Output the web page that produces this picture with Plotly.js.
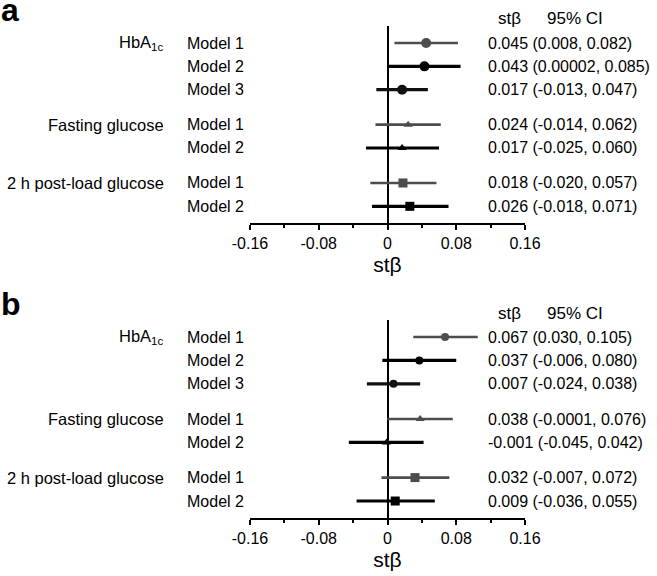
<!DOCTYPE html>
<html>
<head>
<meta charset="utf-8">
<script src="https://cdn.plot.ly/plotly-3.0.1.min.js"></script>
<style>html,body{margin:0;padding:0;background:#fff;}#chart{width:657px;height:576px;}</style>
</head>
<body>
<div id="chart"></div>
<script>
// ---- data ----
var models = ['Model 1', 'Model 2', 'Model 3', 'Model 1', 'Model 2', 'Model 1', 'Model 2'];
var groups = ['HbA<sub>1c</sub>', 'Fasting glucose', '2 h post-load glucose'];
var groupRow = [0, 3, 5];          // index of first model row of each group
var rowPos = [0, 1, 2, 3.5, 4.5, 6, 7];
var symbols = ['circle', 'circle', 'circle', 'triangle-up', 'triangle-up', 'square', 'square'];
var rowColors = ['#4d4d4d', '#000000', '#111111', '#4d4d4d', '#000000', '#4d4d4d', '#000000'];

// panel a
var estA = [0.045, 0.043, 0.017, 0.024, 0.017, 0.018, 0.026];
var loA  = [0.008, 0.00002, -0.013, -0.014, -0.025, -0.020, -0.018];
var hiA  = [0.082, 0.085, 0.047, 0.062, 0.060, 0.057, 0.071];
// panel b
var estB = [0.067, 0.037, 0.007, 0.038, -0.001, 0.032, 0.009];
var loB  = [0.030, -0.006, -0.024, -0.0001, -0.045, -0.007, -0.036];
var hiB  = [0.105, 0.080, 0.038, 0.076, 0.042, 0.072, 0.055];

var tickVals = [-0.16, -0.08, 0, 0.08, 0.16];
var tickText = ['-0.16', '-0.08', '0', '0.08', '0.16'];

// ---- helpers ----
function fmt(v) {
  return (v !== 0 && Math.abs(v) < 0.001) ? String(v) : v.toFixed(3);
}
var FONT = 'Liberation Sans, Arial, Helvetica, sans-serif';
var W = 657, H = 576;
function px(x) { return x / W; }
function py(y) { return (H - y) / H; }

var traces = [];
var annotations = [];

function addPanel(est, lo, hi, xa, ya, headerY, letter, letterY) {
  var i;
  for (i = 0; i < est.length; i++) {
    var lw = rowColors[i] === '#4d4d4d' ? 2.6 : 3.2;
    traces.push({
      type: 'scatter', mode: 'lines', x: [lo[i], hi[i]], y: [rowPos[i], rowPos[i]],
      xaxis: xa, yaxis: ya, line: {color: rowColors[i], width: lw},
      hoverinfo: 'skip', showlegend: false
    });
  }
  for (i = 0; i < est.length; i++) {
    var sz = symbols[i] === 'circle' ? (ya === 'y' ? 10 : 8) : (symbols[i] === 'square' ? 9 : 8);
    traces.push({
      type: 'scatter', mode: 'markers', x: [est[i]], y: [rowPos[i]],
      xaxis: xa, yaxis: ya,
      marker: {symbol: symbols[i], color: rowColors[i], size: sz, line: {width: 0}},
      showlegend: false
    });
    annotations.push({
      xref: 'paper', yref: ya, x: px(185), y: rowPos[i], xanchor: 'left', yanchor: 'middle',
      text: models[i], showarrow: false, font: {size: 16, color: '#000', family: FONT}
    });
    annotations.push({
      xref: 'paper', yref: ya, x: px(486), y: rowPos[i], xanchor: 'left', yanchor: 'middle',
      text: fmt(est[i]) + ' (' + fmt(lo[i]) + ', ' + fmt(hi[i]) + ')',
      showarrow: false, font: {size: 16, color: '#000', family: FONT}
    });
  }
  for (i = 0; i < groups.length; i++) {
    annotations.push({
      xref: 'paper', yref: ya, x: px(166), y: rowPos[groupRow[i]], xanchor: 'right', yanchor: 'middle',
      text: groups[i], showarrow: false, font: {size: 16.5, color: '#000', family: FONT}
    });
  }
  annotations.push({
    xref: 'paper', yref: 'paper', x: px(496), y: py(headerY), xanchor: 'left', yanchor: 'middle',
    text: 'stβ', showarrow: false, font: {size: 17, color: '#000', family: FONT}
  });
  annotations.push({
    xref: 'paper', yref: 'paper', x: px(545), y: py(headerY), xanchor: 'left', yanchor: 'middle',
    text: '95% CI', showarrow: false, font: {size: 17, color: '#000', family: FONT}
  });
  annotations.push({
    xref: 'paper', yref: 'paper', x: px(-1), y: py(letterY), xanchor: 'left', yanchor: 'middle',
    text: '<b>' + letter + '</b>', showarrow: false, font: {size: 32, color: '#000', family: FONT}
  });
}

addPanel(estA, loA, hiA, 'x', 'y', 18, 'a', 10);
addPanel(estB, loB, hiB, 'x2', 'y2', 313, 'b', 304);

function xAxis(anchor, titleText) {
  return {
    anchor: anchor, domain: [px(250), px(525)], range: [-0.16, 0.16],
    tickmode: 'array', tickvals: tickVals, ticktext: tickText,
    ticks: 'outside', ticklen: 5, tickwidth: 2, tickcolor: '#000',
    minor: {tickmode: 'array', tickvals: [-0.12, -0.04, 0.04, 0.12], ticks: 'outside', ticklen: 3, tickwidth: 2, tickcolor: '#000'},
    showline: true, linecolor: '#000', linewidth: 2,
    zeroline: true, zerolinecolor: '#000', zerolinewidth: 2,
    showgrid: false, fixedrange: true,
    tickfont: {size: 16, color: '#000', family: FONT},
    title: {text: titleText, font: {size: 21, color: '#000', family: FONT}, standoff: 6}
  };
}
function yAxis(anchor, top, bottom, rTop, rBottom) {
  return {
    anchor: anchor, domain: [py(bottom), py(top)], range: [rBottom, rTop],
    visible: false, showgrid: false, zeroline: false, fixedrange: true
  };
}

var layout = {
  width: W, height: H,
  margin: {l: 0, r: 0, t: 0, b: 0},
  paper_bgcolor: '#fff', plot_bgcolor: '#fff',
  showlegend: false,
  font: {family: FONT, color: '#000'},
  xaxis: xAxis('y', 'stβ'),
  yaxis: yAxis('x', 26, 223, -0.729, 7.715),
  xaxis2: xAxis('y2', 'stβ'),
  yaxis2: yAxis('x2', 320, 518, -0.726, 7.725),
  annotations: annotations
};

Plotly.newPlot('chart', traces, layout, {displayModeBar: false, staticPlot: true});
</script>
</body>
</html>
